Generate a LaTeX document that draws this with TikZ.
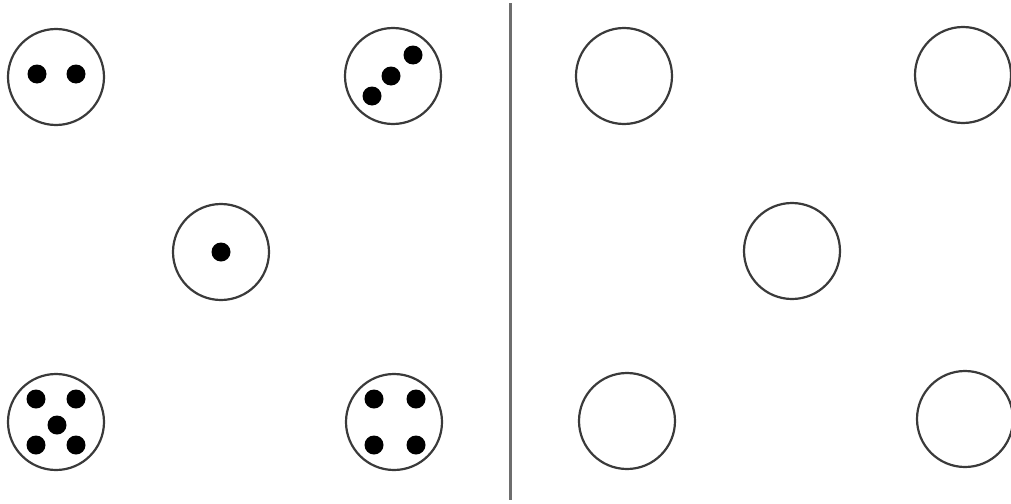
\documentclass[tikz,border=0pt]{standalone}
\definecolor{ink}{HTML}{3A3A3A}
\definecolor{rule}{HTML}{6E6E6E}

\begin{document}
\begin{tikzpicture}[
  x=0.5pt,y=-0.5pt,
  ring/.style={circle,draw=ink,line width=1.1pt,minimum size=48pt,inner sep=0pt},
  pip/.style={circle,fill=black,minimum size=9.5pt,inner sep=0pt},
  divider/.style={draw=rule,line width=1.5pt}]
\useasboundingbox (0,0) rectangle (1011,503);
% left half: rings with pips
\node[ring] (two)   at (56,77)   {};
\node[ring] (three) at (393,76)  {};
\node[ring] (one)   at (221,252) {};
\node[ring] (five)  at (56,422)  {};
\node[ring] (four)  at (394,422) {};
\node[pip] at ([shift={(-19,-3)}]two) {};
\node[pip] at ([shift={(20,-3)}]two) {};
\node[pip] at ([shift={(20,-21)}]three) {};
\node[pip] at ([shift={(-2,0)}]three) {};
\node[pip] at ([shift={(-21,20)}]three) {};
\node[pip] at (one) {};
\foreach \dx/\dy in {-20/-23,20/-23,1/3,-20/23,20/23}
  \node[pip] at ([shift={(\dx,\dy)}]five) {};
\foreach \dx/\dy in {-20/-23,22/-23,-20/23,22/23}
  \node[pip] at ([shift={(\dx,\dy)}]four) {};
% divider
\coordinate (rtop) at (510,3);
\coordinate (rbot) at (510,500);
\draw[divider] (rtop) -- (rbot);
% right half: empty rings
\node[ring] (etl) at (624,76)  {};
\node[ring] (etr) at (963,75)  {};
\node[ring] (emid) at (792,251) {};
\node[ring] (ebl) at (627,421) {};
\node[ring] (ebr) at (965,419) {};
\end{tikzpicture}
\end{document}
